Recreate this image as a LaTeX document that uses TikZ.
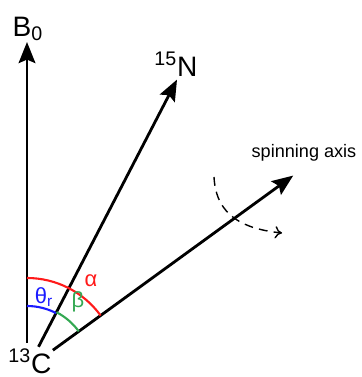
\documentclass[tikz,border=0pt]{standalone}
\usepackage{fontspec}
\setmainfont{Liberation Sans}
\usetikzlibrary{positioning,arrows.meta,calc}
\definecolor{ink}{HTML}{000000}
\definecolor{arcred}{HTML}{FF1A1A}
\definecolor{arcblue}{HTML}{1A1AFF}
\definecolor{arcgreen}{HTML}{33A852}
\tikzset{
  axis/.style={-{Stealth[length=12pt,width=9.5pt,inset=2pt]},line width=1.6pt,draw=ink},
  angarc/.style={line width=1.2pt},
  spin/.style={-{To[length=4pt,width=7pt]},line width=0.8pt,dash pattern=on 5pt off 3.5pt},
  lbl/.style={font=\fontsize{16}{18}\selectfont,inner sep=0pt},
  ang/.style={font=\fontsize{12.5}{14}\selectfont,inner sep=0pt},
}
\begin{document}
\begin{tikzpicture}[x=0.02cm,y=0.02cm]
  \useasboundingbox (0,0) rectangle (361,377);
  % vertex and axis ends
  \coordinate (O) at (27,8);
  \coordinate (b0s) at ($(O)+(90:26)$);   \coordinate (b0e) at ($(O)+(90:327)$);
  \coordinate (ns) at ($(O)+(62.6:25)$);  \coordinate (ne) at ($(O)+(62.6:326)$);
  \coordinate (ss) at ($(O)+(36:32)$);    \coordinate (se) at ($(O)+(36:329)$);
  % labels
  \node[lbl] (B0) at (28,348) {B\textsubscript{0}};
  \node[lbl] (N15) at (176,313) {\textsuperscript{15}N};
  \node[lbl] (C13) at (30,16) {\textsuperscript{13}C};
  \node[font=\fontsize{10.3}{12}\selectfont,inner sep=0pt] (sax) at (304,224) {spinning axis};
  % axes
  \draw[axis] (b0s)--(b0e);
  \draw[axis] (ns)--(ne);
  \draw[axis] (ss)--(se);
  % angles
  \draw[angarc,arcred] ($(O)+(90:91)$) arc[start angle=90,end angle=36,radius=1.82cm];
  \draw[angarc,arcblue] ($(O)+(90:63)$) arc[start angle=90,end angle=62.6,radius=1.26cm];
  \draw[angarc,arcgreen] ($(O)+(62.6:64)$) arc[start angle=62.6,end angle=36,radius=1.28cm];
  \node[ang,text=arcred] (alpha) at (91,96) {α};
  \node[ang,text=arcgreen] (beta) at (78,75) {β};
  \node[ang,text=arcblue] (theta) at (44,80) {θ\textsubscript{r}};
  % rotation
  \coordinate (rs) at (214,200); \coordinate (re) at (282,144);
  \draw[spin] (rs) .. controls (216,160) and (245,148) .. (re);
\end{tikzpicture}
\end{document}
